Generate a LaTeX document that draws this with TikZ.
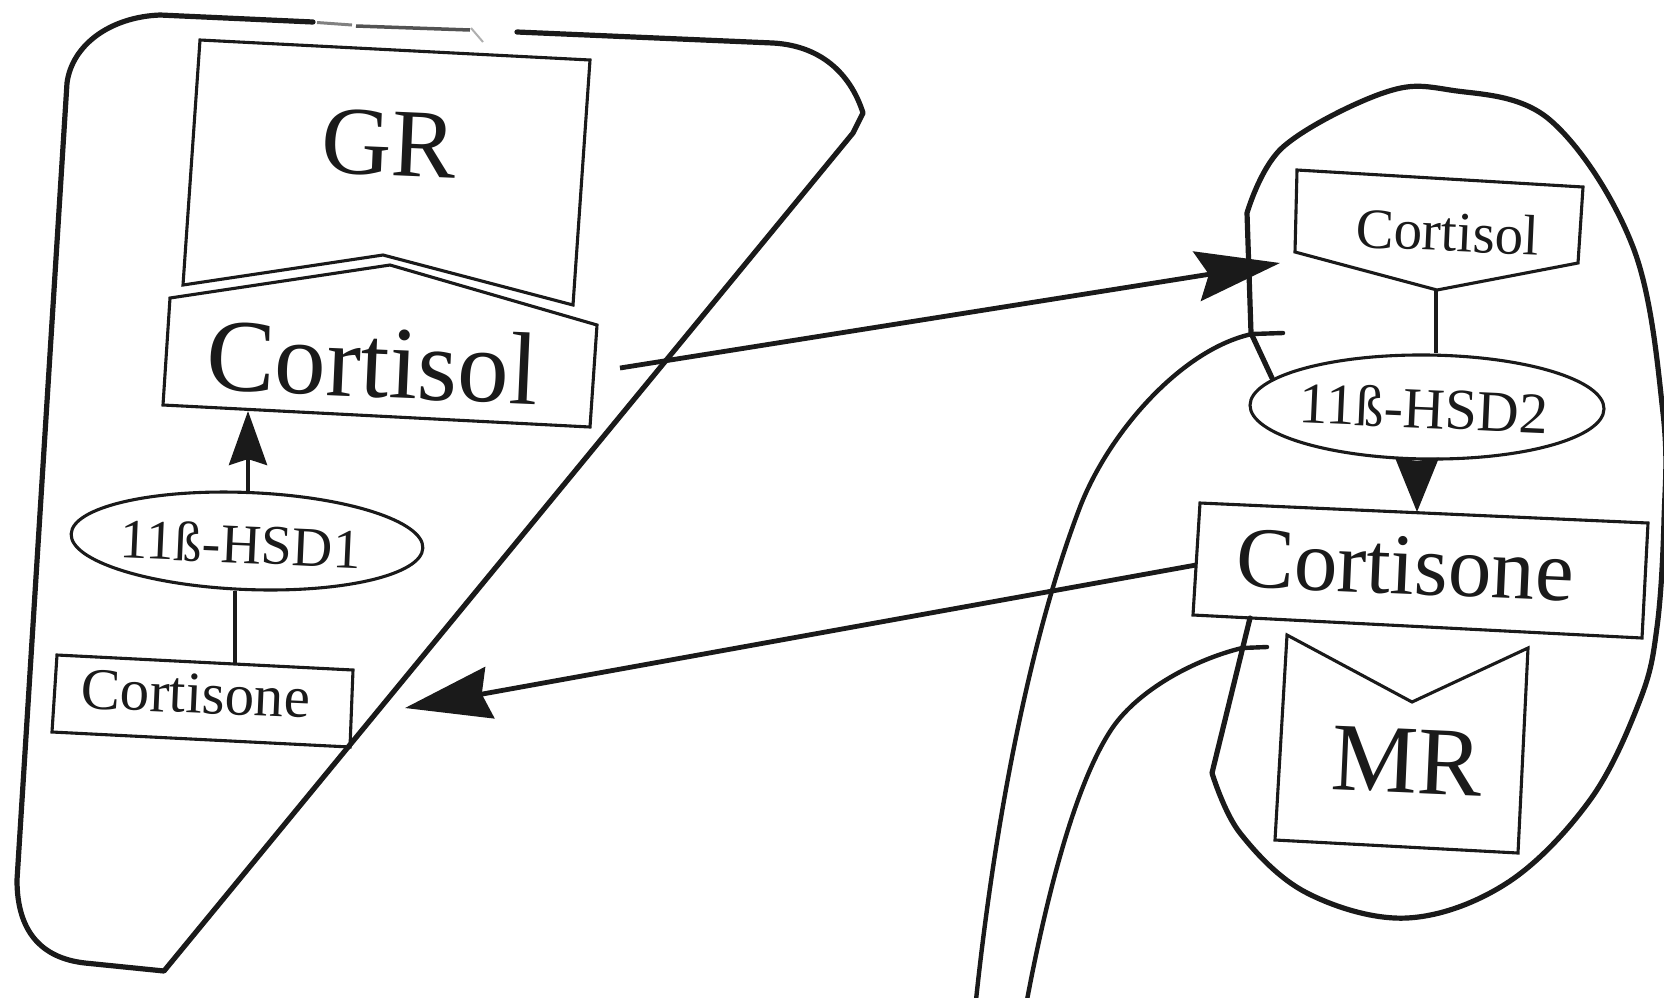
\documentclass[tikz,border=0pt]{standalone}
\usepackage{fontspec}
\setmainfont{Liberation Serif}
\usetikzlibrary{arrows.meta,shapes.geometric}
\definecolor{ink}{RGB}{26,26,26}
\begin{document}
\begin{tikzpicture}[x=1pt,y=-1pt,
  cellline/.style={draw=ink,line width=5.2pt,line join=round,line cap=round},
  boxline/.style={draw=ink,line width=3.1pt,line join=miter},
  vessel/.style={draw=ink,line width=4.4pt,line cap=round},
  arrline/.style={draw=ink,line width=4.8pt},
  lbl/.style={inner sep=0pt,anchor=base,text=ink,rotate=-2.5},
  enzyme/.style={draw=ink,line width=3.1pt,ellipse,inner sep=0pt},
]
\fill[white] (0,0) rectangle (1664,997);
\useasboundingbox (0,0) rectangle (1664,997);

% ---------- left cell ----------
\draw[cellline] (517,32) -- (773,43) .. controls (825,46) and (852,78) .. (863,113)
  -- (853,133) -- (164,971) -- (85,963) .. controls (40,958) and (17,930) .. (17,880)
  -- (67,83) .. controls (72,45) and (110,17) .. (160,15) -- (313,22);
\draw[ink!55,line width=3pt] (317,22.5) -- (352,25);
\draw[ink!75,line width=3.5pt] (356,26) -- (470,30);
\draw[ink!35,line width=2pt] (471,28) -- (483,42);

% GR receptor
\draw[boxline] (200,40) -- (590,60) -- (573,305) -- (383,255) -- (183,285) -- cycle;
\node[lbl,font=\fontsize{97}{97}\selectfont] (gr) at (388,175) {GR};

% cortisol bound to GR
\draw[boxline] (170,298) -- (390,265) -- (597,325) -- (590,427) -- (163,405) -- cycle;
\node[lbl,font=\fontsize{103}{103}\selectfont] (cortL) at (371,397) {Cortisol};
\coordinate (cortLbot) at (248,411);
\coordinate (cortLout) at (620,368);

% 11beta-HSD1
\node[enzyme,minimum width=352pt,minimum height=97pt,rotate=-2.3] (hsd1) at (247,541) {};
\node[lbl,font=\fontsize{56}{56}\selectfont] (hsd1txt) at (240,563) {11ß-HSD1};

% cortisone in the left cell
\draw[boxline] (57,655) -- (353,670) -- (350,747) -- (52,732) -- cycle;
\node[lbl,font=\fontsize{59}{59}\selectfont] (coneL) at (195,713) {Cortisone};
\coordinate (coneLtop) at (235,664);
\coordinate (coneLin) at (405,708);

\draw[boxline] (coneLtop |- hsd1.south) -- (coneLtop);
\draw[arrline,line width=4.2pt,-{Stealth[length=54pt,width=38pt,inset=6pt]}] (cortLbot |- hsd1.north) -- (cortLbot);

% ---------- vessels ----------
\draw[vessel] (976,1000) .. controls (993,840) and (1026,648) .. (1080,507)
  .. controls (1109,432) and (1182,349) .. (1252,334) -- (1283,333);
\draw[vessel] (1027,1000) .. controls (1044,910) and (1073,785) .. (1113,727)
  .. controls (1139,690) and (1193,660) .. (1242,648) -- (1267,647);

% ---------- right cell ----------
\draw[cellline] (1272,378) -- (1251,333) -- (1247,213) -- plot[smooth,tension=0.6] coordinates {(1247,213) (1283,147) (1383,93) (1450,90) (1550,120) (1633,247) (1663,413) (1664,520) (1657,627) (1640,700) (1590,800) (1507,883) (1407,918) (1307,893) (1240,833) (1212,773)} -- (1250,618);

% cortisol entering the right cell
\draw[boxline] (1297,170) -- (1583,187) -- (1578,263) -- (1437,290) -- (1295,252) -- cycle;
\node[lbl,font=\fontsize{57}{57}\selectfont] (cortR) at (1447,251) {Cortisol};
\coordinate (cortRv) at (1436,290);
\coordinate (cortRin) at (1280,263);

% 11beta-HSD2
\node[enzyme,minimum width=354pt,minimum height=104pt,rotate=-0.6] (hsd2) at (1427,407) {};
\node[lbl,font=\fontsize{58}{58}\selectfont] (hsd2txt) at (1423,428) {11ß-HSD2};
\draw[boxline] (cortRv) -- (cortRv |- hsd2.north);

% cortisone in the right cell
\draw[boxline] (1200,503) -- (1648,523) -- (1642,638) -- (1193,615) -- cycle;
\node[lbl,font=\fontsize{87}{87}\selectfont] (coneR) at (1404,594) {Cortisone};
\coordinate (coneRtop) at (1417,512);
\coordinate (coneRout) at (1196,565);
\draw[arrline,-{Stealth[length=54pt,width=43pt,inset=3pt]}] (coneRtop |- hsd2.south) -- (coneRtop);

% MR receptor
\draw[boxline] (1287,635) -- (1412,702) -- (1528,648) -- (1518,853) -- (1275,840) -- cycle;
\node[lbl,font=\fontsize{97}{97}\selectfont] (mr) at (1406,793) {MR};

% ---------- exchange between the cells ----------
\draw[arrline,-{Stealth[length=84pt,width=50pt,inset=12pt]}] (cortLout) -- (cortRin);
\draw[arrline,-{Stealth[length=86pt,width=52pt,inset=8pt]}] (coneRout) -- (coneLin);
\end{tikzpicture}
\end{document}
